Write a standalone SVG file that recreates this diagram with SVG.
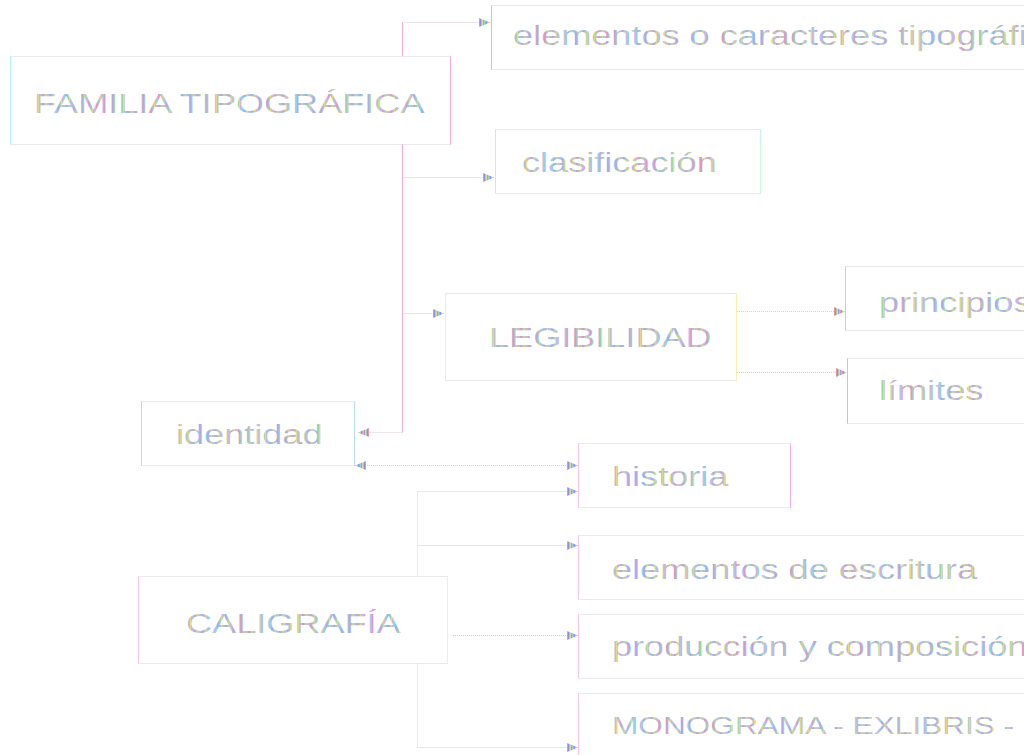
<svg xmlns="http://www.w3.org/2000/svg" width="1024" height="755" viewBox="0 0 1024 755">
<defs>
<pattern id="rb" patternUnits="userSpaceOnUse" width="6" height="8">
<rect x="0" y="0" width="1" height="8" fill="#f58fb0"/>
<rect x="1" y="0" width="1" height="8" fill="#8c8cf5"/>
<rect x="2" y="0" width="1" height="8" fill="#8fe08f"/>
<rect x="3" y="0" width="1" height="8" fill="#f2d870"/>
<rect x="4" y="0" width="1" height="8" fill="#b88cf5"/>
<rect x="5" y="0" width="1" height="8" fill="#7fd8f2"/>
</pattern>
<marker id="ah" viewBox="0 0 11 9" refX="11" refY="4.5" markerWidth="11" markerHeight="9" markerUnits="userSpaceOnUse" orient="auto-start-reverse">
<path d="M0,0 L11,4.5 L0,9 z" fill="url(#rb)"/>
</marker>
</defs>
<style>
.box{fill:none;stroke:#d9d2da;stroke-width:1;stroke-dasharray:1 1}
.t{font-family:"Liberation Sans",Arial,sans-serif;font-size:28px;fill:url(#rb)}
.c{fill:none;stroke:#dccbd4;stroke-width:1;stroke-dasharray:1 1}
.trunkA{fill:none;stroke:#f7a6df;stroke-width:1}
.trunkB{fill:none;stroke:#f6f0b6;stroke-width:1}
</style>
<rect width="1024" height="755" fill="#ffffff"/>

<g id="connectors">
<path class="trunkA" d="M402.5,56 V22.5 M402.5,144 V432.5"/>
<path class="c" d="M402.5,22.5 H490" marker-end="url(#ah)"/>
<path class="c" d="M402.5,177.5 H494" marker-end="url(#ah)"/>
<path class="c" d="M402.5,313.5 H444" marker-end="url(#ah)"/>
<path class="c" d="M402.5,432.5 H358" marker-end="url(#ah)"/>
<path class="c" d="M737,311.5 H845" marker-end="url(#ah)"/>
<path class="c" d="M737,372.5 H847" marker-end="url(#ah)"/>
<path class="c" d="M355,465.5 H578" marker-start="url(#ah)" marker-end="url(#ah)"/>
<path class="trunkB" d="M417.5,576 V491.5 M417.5,663 V747.5"/>
<path class="c" d="M417.5,491.5 H578" marker-end="url(#ah)"/>
<path class="c" d="M417.5,545.5 H578" marker-end="url(#ah)"/>
<path class="c" d="M453,635.5 H578" marker-end="url(#ah)"/>
<path class="c" d="M417.5,747.5 H578" marker-end="url(#ah)"/>
</g>

<g id="familia">
<rect class="box" x="10.5" y="56.5" width="440" height="88"/>
<path d="M10.5,56.5 V144.5" stroke="#aef6f6"/>
<path d="M450.5,56.5 V144.5" stroke="#f7a6ef"/>
<text class="t" transform="translate(34,113) scale(1.29,1)">FAMILIA TIPOGRÁFICA</text>
</g>

<g id="elementos">
<rect class="box" x="491.5" y="5.5" width="560" height="64"/>
<path d="M491.5,5.5 V69.5" stroke="#f7a6ef"/>
<text class="t" transform="translate(513,45) scale(1.29,1)">elementos o caracteres tipográficos</text>
</g>

<g id="clasificacion">
<rect class="box" x="495.5" y="129.5" width="265" height="64"/>
<path d="M495.5,129.5 V193.5" stroke="#aef6f6"/>
<path d="M760.5,129.5 V193.5" stroke="#c8f6e0"/>
<text class="t" transform="translate(522,172) scale(1.29,1)">clasificación</text>
</g>

<g id="legibilidad">
<rect class="box" x="445.5" y="293.5" width="291" height="87"/>
<path d="M445.5,293.5 V380.5" stroke="#f7f1a6"/>
<path d="M736.5,293.5 V380.5" stroke="#f7f1a6"/>
<text class="t" transform="translate(489,347) scale(1.29,1)">LEGIBILIDAD</text>
</g>

<g id="principios">
<rect class="box" x="845.5" y="266.5" width="220" height="64"/>
<path d="M845.5,266.5 V330.5" stroke="#cfc8f6"/>
<text class="t" transform="translate(879,312) scale(1.29,1)">principios</text>
</g>

<g id="limites">
<rect class="box" x="847.5" y="358.5" width="220" height="65"/>
<path d="M847.5,358.5 V423.5" stroke="#f7a6ef"/>
<text class="t" transform="translate(879,400) scale(1.29,1)">límites</text>
</g>

<g id="identidad">
<rect class="box" x="141.5" y="401.5" width="213" height="64"/>
<path d="M141.5,401.5 V465.5" stroke="#dcc8f6"/>
<path d="M354.5,401.5 V465.5" stroke="#b6dcf6"/>
<text class="t" transform="translate(176,444) scale(1.29,1)">identidad</text>
</g>

<g id="historia">
<rect class="box" x="578.5" y="443.5" width="212" height="64"/>
<path d="M578.5,443.5 V507.5" stroke="#f9c4ec"/>
<path d="M790.5,443.5 V507.5" stroke="#f7a6ef"/>
<text class="t" transform="translate(612,486) scale(1.29,1)">historia</text>
</g>

<g id="escritura">
<rect class="box" x="578.5" y="535.5" width="500" height="64"/>
<path d="M578.5,535.5 V599.5" stroke="#f9c4ec"/>
<text class="t" transform="translate(612,579) scale(1.29,1)">elementos de escritura</text>
</g>

<g id="caligrafia">
<rect class="box" x="138.5" y="576.5" width="309" height="87"/>
<path d="M138.5,576.5 V663.5" stroke="#f9c4ec"/>
<path d="M447.5,576.5 V663.5" stroke="#f7f1c0"/>
<text class="t" transform="translate(186,633) scale(1.29,1)">CALIGRAFÍA</text>
</g>

<g id="produccion">
<rect class="box" x="578.5" y="614.5" width="500" height="64"/>
<path d="M578.5,614.5 V678.5" stroke="#f9c4ec"/>
<text class="t" transform="translate(612,656) scale(1.29,1)">producción y composición</text>
</g>

<g id="monograma">
<rect class="box" x="578.5" y="693.5" width="500" height="80"/>
<path d="M578.5,693.5 V755" stroke="#f9c4ec"/>
<text class="t" style="font-size:24.7px" transform="translate(612,734) scale(1.28,1)">MONOGRAMA - EXLIBRIS -</text>
</g>
</svg>
